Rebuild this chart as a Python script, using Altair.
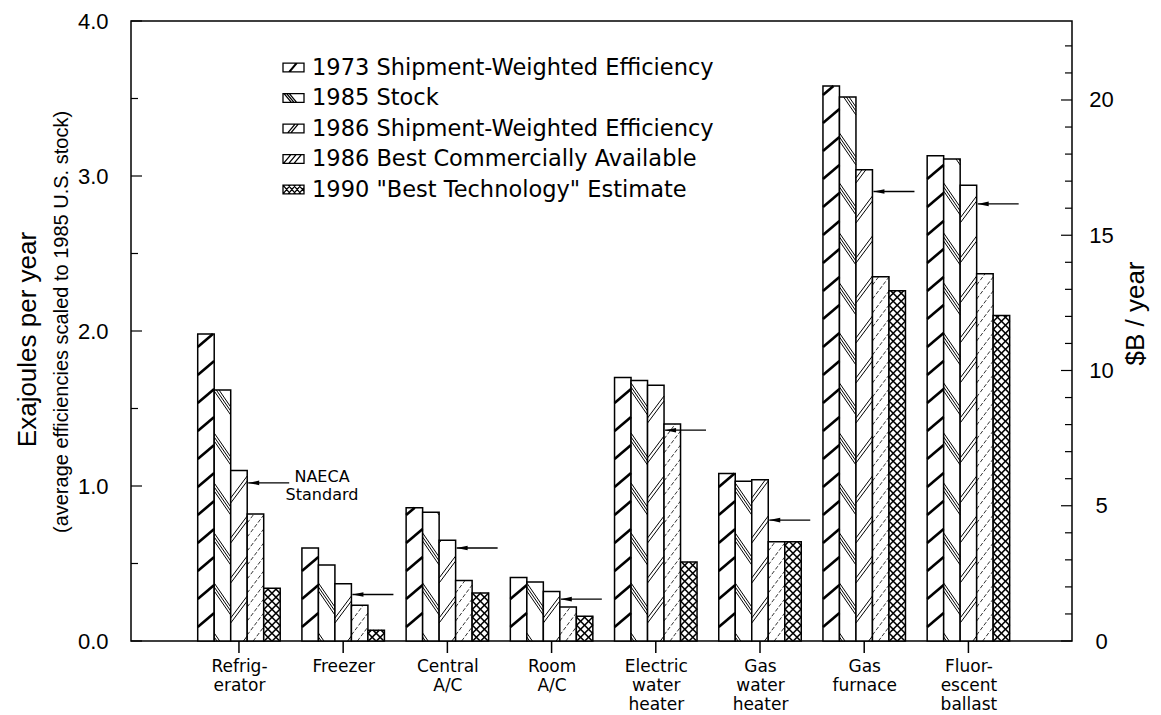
import altair as alt
import pandas as pd

# ---------------- data ----------------
categories = ["Refrig-|erator", "Freezer", "Central|A/C", "Room|A/C",
              "Electric|water|heater", "Gas|water|heater", "Gas|furnace",
              "Fluor-|escent|ballast"]
series = ["1973 Shipment-Weighted Efficiency", "1985 Stock",
          "1986 Shipment-Weighted Efficiency", "1986 Best Commercially Available",
          '1990 "Best Technology" Estimate']
ship_1973 = [1.98, 0.60, 0.86, 0.41, 1.70, 1.08, 3.58, 3.13]
stock_1985 = [1.62, 0.49, 0.83, 0.38, 1.68, 1.03, 3.51, 3.11]
ship_1986 = [1.10, 0.37, 0.65, 0.32, 1.65, 1.04, 3.04, 2.94]
best_1986 = [0.82, 0.23, 0.39, 0.22, 1.40, 0.64, 2.35, 2.37]
tech_1990 = [0.34, 0.07, 0.31, 0.16, 0.51, 0.64, 2.26, 2.10]
naeca_standard = [1.02, 0.30, 0.60, 0.27, 1.36, 0.78, 2.90, 2.82]
naeca_label = "NAECA\nStandard"

left_ticks_major = [0, 1, 2, 3, 4]
left_ticks_minor = [0.5, 1.5, 2.5, 3.5]
right_ticks_major = [0, 5, 10, 15, 20]
right_ticks_minor = [1, 2, 3, 4, 6, 7, 8, 9, 11, 12, 13, 14, 16, 17, 18, 19, 21, 22]
left_max = 4.0
right_max = 22.92
left_title = "Exajoules per year"
left_subtitle = "(average efficiencies scaled to 1985 U.S. stock)"
right_title = "$B / year"

# ---------------- layout constants ----------------
W, H = 941, 620
XMIN, XMAX = -1.036, 7.994
PXX = W / (XMAX - XMIN)     # px per category unit
PXY = H / left_max          # px per EJ
P = 16.5 / PXX              # bar width in category units

all_series = [ship_1973, stock_1985, ship_1986, best_1986, tech_1990]
rows = []
for si, (name, vals) in enumerate(zip(series, all_series)):
    for ci, v in enumerate(vals):
        rows.append({"ci": ci, "si": si, "series": name, "v": v})
bars_df = pd.DataFrame(rows)
arrow_df = pd.DataFrame({"ci": list(range(len(categories))), "v": naeca_standard})
cat_df = pd.DataFrame({"ci": list(range(len(categories)))})

xscale = alt.Scale(domain=[XMIN, XMAX], nice=False, zero=False)
yscale = alt.Scale(domain=[0, left_max], nice=False, zero=True)
yscale_r = alt.Scale(domain=[0, right_max], nice=False, zero=True)

label_list = "[" + ",".join("'" + c + "'" for c in categories) + "]"
xaxis = alt.Axis(values=list(range(len(categories))),
                 labelExpr=f"split({label_list}[datum.value], '|')",
                 title=None, grid=False, domain=False, ticks=False, tickSize=0,
                 labelPadding=17,
                 labelFont="DejaVu Sans", labelFontSize=17, labelLineHeight=19,
                 labelColor="black", labelFlush=False, labelOverlap=False,
                 labelBound=False)
yaxis = alt.Axis(orient="left", values=left_ticks_major, format=".1f",
                 grid=False, domain=False, ticks=False, tickSize=0,
                 labelPadding=23, labelFont="Liberation Sans", labelFontSize=22,
                 labelColor="black", title=left_title,
                 titleFont="Liberation Sans", titleFontSize=26,
                 titleFontWeight="normal", titleColor="black", titleAngle=270,
                 titleX=-104, titleY=318, titleAlign="center",
                 titleBaseline="middle")
yaxis_r = alt.Axis(orient="right", values=right_ticks_major, grid=False,
                   domain=False, ticks=False, tickSize=0, labelPadding=29,
                   labelAlign="center", labelFont="Liberation Sans",
                   labelFontSize=22, labelColor="black", format="d",
                   title=right_title, titleFont="Liberation Sans",
                   titleFontSize=26, titleFontWeight="normal", titleColor="black",
                   titleAngle=270, titleX=63, titleY=292, titleAlign="center",
                   titleBaseline="middle")

base = alt.Chart(bars_df).transform_calculate(
    x0=f"datum.ci + (datum.si - 2) * {P} - {P / 2}"
).transform_calculate(
    x1=f"datum.x0 + {P}"
)

bars = base.mark_rect(fill="white", stroke="black", strokeWidth=1.5).encode(
    x=alt.X("x0:Q", scale=xscale, axis=xaxis),
    x2="x1:Q",
    y=alt.Y("v:Q", scale=yscale, axis=yaxis),
    y2=alt.datum(0),
)


def hatch(si, d, r_px, s_px, offs_px, sw, dash=None):
    R = r_px / PXY
    S = s_px / PXY
    b = d * R
    shift = R if d > 0 else 0.0
    offs = "[" + ",".join(str(o / PXY) for o in offs_px) + "]"
    ch = (base.transform_filter(f"datum.si == {si}")
          .transform_calculate(k=f"sequence(0, ceil((datum.v + {R}) / {S}) + 1)")
          .transform_flatten(["k"])
          .transform_calculate(o=offs)
          .transform_flatten(["o"])
          .transform_calculate(a=f"datum.k * {S} + datum.o - {shift}")
          .transform_calculate(t0=f"(0 - datum.a) / ({b})")
          .transform_calculate(tv=f"(datum.v - datum.a) / ({b})")
          .transform_calculate(tlo="max(0, min(datum.t0, datum.tv))")
          .transform_calculate(thi="min(1, max(datum.t0, datum.tv))")
          .transform_filter("datum.tlo < datum.thi")
          .transform_calculate(xa="datum.x0 + datum.tlo * (datum.x1 - datum.x0)")
          .transform_calculate(xb="datum.x0 + datum.thi * (datum.x1 - datum.x0)")
          .transform_calculate(ya=f"datum.a + ({b}) * datum.tlo")
          .transform_calculate(yb=f"datum.a + ({b}) * datum.thi"))
    kw = dict(color="black", strokeWidth=sw, strokeCap="butt")
    if dash is not None:
        kw["strokeDash"] = dash
    return ch.mark_rule(**kw).encode(
        x=alt.X("xa:Q", scale=xscale, axis=None),
        x2="xb:Q",
        y=alt.Y("ya:Q", scale=yscale, axis=None),
        y2="yb:Q",
    )


hatches = [
    hatch(0, +1, 14, 28, [0], 2.6),
    hatch(1, -1, 24, 50, [0, 4, 8], 1.0),
    hatch(2, +1, 22, 40, [0, 5], 1.0),
    hatch(3, +1, 22, 14, [0], 0.8, [4, 2]),
    hatch(4, +1, 16.5, 8, [0], 1.6),
    hatch(4, -1, 16.5, 8, [0], 1.6),
]

arrow_base = alt.Chart(arrow_df).transform_calculate(
    edge=f"datum.ci + {P / 2}"
)
arrow_lines = arrow_base.transform_calculate(
    xs=f"datum.edge + {1 / PXX}", xe=f"datum.edge + {42 / PXX}"
).mark_rule(color="black", strokeWidth=1.3).encode(
    x=alt.X("xs:Q", scale=xscale, axis=None),
    x2="xe:Q",
    y=alt.Y("v:Q", scale=yscale, axis=None),
)
arrow_heads = arrow_base.transform_calculate(
    xh=f"datum.edge + {6.5 / PXX}"
).mark_point(shape="M-1,0L1,-0.42L1,0.42Z", filled=True, color="black",
             size=121, opacity=1).encode(
    x=alt.X("xh:Q", scale=xscale, axis=None),
    y=alt.Y("v:Q", scale=yscale, axis=None),
)
naeca_text = arrow_base.transform_filter("datum.ci == 0").transform_calculate(
    xt="datum.ci + 0.797", yt="datum.v + 0.04"
).mark_text(font="DejaVu Sans", fontSize=16, align="center",
            baseline="middle", lineHeight=18, color="black",
            lineBreak="\n").encode(
    x=alt.X("xt:Q", scale=xscale, axis=None),
    y=alt.Y("yt:Q", scale=yscale, axis=None),
    text=alt.value(naeca_label),
)

# legend with custom path symbols
rect = "M-1,-0.42H1V0.42H-1Z"
sym_paths = [
    rect + " M-0.45,0.42L0.25,-0.42 M-0.35,0.42L0.35,-0.42",
    rect + " M-0.9,-0.42L-0.2,0.42 M-0.65,-0.42L0.05,0.42 M-0.4,-0.42L0.3,0.42",
    rect + " M-0.55,0.42L0.15,-0.42 M-0.25,0.42L0.45,-0.42",
    rect + " M-0.95,0.42L-0.25,-0.42 M-0.45,0.42L0.25,-0.42 M0.05,0.42L0.75,-0.42",
    rect + " M-1,-0.42L-0.3,0.42 M-0.5,-0.42L0.2,0.42 M0,-0.42L0.7,0.42"
           " M-1,0.42L-0.3,-0.42 M-0.5,0.42L0.2,-0.42 M0,0.42L0.7,-0.42"
           " M0.5,-0.42L1,0.18 M0.5,0.42L1,-0.18",
]
legend_layer = base.mark_point(filled=False, color="black", opacity=0).encode(
    x=alt.X("x0:Q", scale=xscale, axis=None),
    y=alt.Y("v:Q", scale=yscale, axis=None),
    shape=alt.Shape("series:N",
                    scale=alt.Scale(domain=series, range=sym_paths),
                    legend=alt.Legend(title=None, orient="none", legendX=151,
                                      legendY=35, symbolSize=441,
                                      symbolStrokeWidth=1.3,
                                      symbolStrokeColor="black",
                                      labelFont="DejaVu Sans",
                                      labelFontSize=22.5, labelColor="black",
                                      labelLimit=800, labelOffset=7,
                                      rowPadding=7.5, padding=0)),
)

lt_major = alt.Chart(pd.DataFrame({"t": left_ticks_major})).mark_rule(
    color="black", strokeWidth=1.2).encode(
    x=alt.value(0), x2=alt.value(11), y=alt.Y("t:Q", scale=yscale, axis=None))
lt_minor = alt.Chart(pd.DataFrame({"t": left_ticks_minor})).mark_rule(
    color="black", strokeWidth=1.2).encode(
    x=alt.value(0), x2=alt.value(7), y=alt.Y("t:Q", scale=yscale, axis=None))
# category ticks hanging below the x axis
x_ticks = alt.Chart(cat_df).transform_calculate(
    t0="0", t1=f"{-12 / PXY}"
).mark_rule(color="black", strokeWidth=1.5).encode(
    x=alt.X("ci:Q", scale=xscale, axis=None),
    y=alt.Y("t0:Q", scale=yscale, axis=None),
    y2="t1:Q")

subtitle = alt.Chart(pd.DataFrame({"t": [left_subtitle]})).mark_text(
    angle=270, font="Liberation Sans Narrow, Liberation Sans", fontSize=20,
    align="center", baseline="middle", color="black").encode(
    text="t:N", x=alt.value(-69), y=alt.value(301))

rt_major = alt.Chart(pd.DataFrame({"t": right_ticks_major})).mark_rule(
    color="black", strokeWidth=1.2).encode(
    x=alt.value(W - 11), x2=alt.value(W),
    y=alt.Y("t:Q", scale=yscale_r, axis=yaxis_r))
rt_minor = alt.Chart(pd.DataFrame({"t": right_ticks_minor})).mark_rule(
    color="black", strokeWidth=1.2).encode(
    x=alt.value(W - 7), x2=alt.value(W),
    y=alt.Y("t:Q", scale=yscale_r, axis=None))

chart = alt.layer(
    bars, rt_major, *hatches, arrow_lines, arrow_heads, naeca_text,
    legend_layer, lt_major, lt_minor, x_ticks, subtitle, rt_minor
).resolve_scale(y="independent").resolve_axis(x="independent").properties(
    width=W, height=H,
    autosize=alt.AutoSizeParams(type="none"),
    padding={"left": 123, "top": 13, "right": 81, "bottom": 74},
    background="white",
).configure_view(stroke="black", strokeWidth=1.5)

chart.save("out.html", embed_options={"renderer": "svg", "actions": False})
